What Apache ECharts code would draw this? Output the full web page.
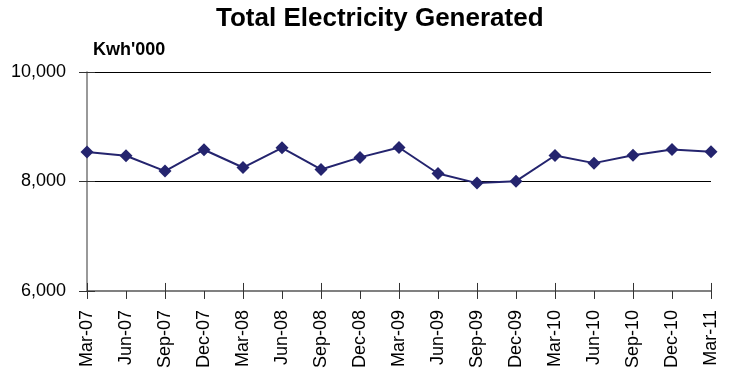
<!DOCTYPE html>
<html>
<head>
<meta charset="utf-8">
<script src="https://cdn.jsdelivr.net/npm/echarts@6/dist/echarts.min.js"></script>
<style>
  html, body { margin: 0; padding: 0; background: #ffffff; }
  #chart { width: 734px; height: 371px; }
</style>
</head>
<body>
<div id="chart"></div>
<script>
// Quarterly periods
const quarters = ['Mar-07', 'Jun-07', 'Sep-07', 'Dec-07', 'Mar-08', 'Jun-08', 'Sep-08', 'Dec-08',
  'Mar-09', 'Jun-09', 'Sep-09', 'Dec-09', 'Mar-10', 'Jun-10', 'Sep-10', 'Dec-10', 'Mar-11'];

// Total electricity generated, Kwh'000
const generated = [8540, 8470, 8190, 8580, 8255, 8615, 8220, 8440,
  8620, 8145, 7970, 8005, 8475, 8335, 8480, 8585, 8545];

// Value axis range
const yMin = 6000;
const yMax = 10000;
const yStep = 2000;

const font = '"Liberation Sans", Arial, Helvetica, sans-serif';
const chart = echarts.init(document.getElementById('chart'), null, { renderer: 'canvas' });

const grid = { left: 87, right: 23, top: 72, bottom: 78 };

chart.setOption({
  animation: false,
  backgroundColor: '#ffffff',
  title: [
    {
      text: 'Total Electricity Generated',
      left: 211,
      top: 1,
      textStyle: { fontFamily: font, fontSize: 26, fontWeight: 'bold', color: '#000000' }
    },
    {
      text: "Kwh'000",
      left: 88,
      top: 36,
      textStyle: { fontFamily: font, fontSize: 18, fontWeight: 'bold', color: '#000000' }
    }
  ],
  grid: grid,
  xAxis: [
    {
      type: 'category',
      data: quarters,
      boundaryGap: false,
      axisLine: { lineStyle: { color: '#808080', width: 2 } },
      axisTick: { show: true, length: 8, lineStyle: { color: '#333333', width: 1 } },
      axisLabel: {
        rotate: 90,
        interval: 0,
        margin: 19,
        fontFamily: font,
        fontSize: 18,
        color: '#000000'
      },
      splitLine: { show: false }
    },
    {
      // inward half of the crossing tick marks
      type: 'category',
      data: quarters,
      boundaryGap: false,
      position: 'bottom',
      axisLine: { show: false },
      axisTick: { show: true, inside: true, length: 8, lineStyle: { color: '#333333', width: 1 } },
      axisLabel: { show: false },
      splitLine: { show: false }
    }
  ],
  yAxis: [
    {
      type: 'value',
      min: yMin,
      max: yMax,
      interval: yStep,
      axisLine: { show: true, lineStyle: { color: '#777777', width: 1.5 } },
      axisTick: { show: true, length: 8, lineStyle: { color: '#333333', width: 1 } },
      axisLabel: {
        margin: 21,
        fontFamily: font,
        fontSize: 18,
        color: '#000000',
        formatter: function (v) { return v.toLocaleString('en-US'); }
      },
      splitLine: { show: true, lineStyle: { color: '#000000', width: 1 } }
    },
    {
      // inward half of the crossing tick marks
      type: 'value',
      min: yMin,
      max: yMax,
      interval: yStep,
      position: 'left',
      axisLine: { show: false },
      axisTick: { show: true, inside: true, length: 8, lineStyle: { color: '#333333', width: 1 } },
      axisLabel: { show: false },
      splitLine: { show: false }
    }
  ],
  series: [
    {
      name: 'Total Electricity Generated',
      type: 'line',
      data: generated,
      xAxisIndex: 0,
      yAxisIndex: 0,
      symbol: 'diamond',
      symbolSize: 13,
      lineStyle: { color: '#24246e', width: 2 },
      itemStyle: { color: '#24246e' },
      z: 5
    }
  ]
});
</script>
</body>
</html>
